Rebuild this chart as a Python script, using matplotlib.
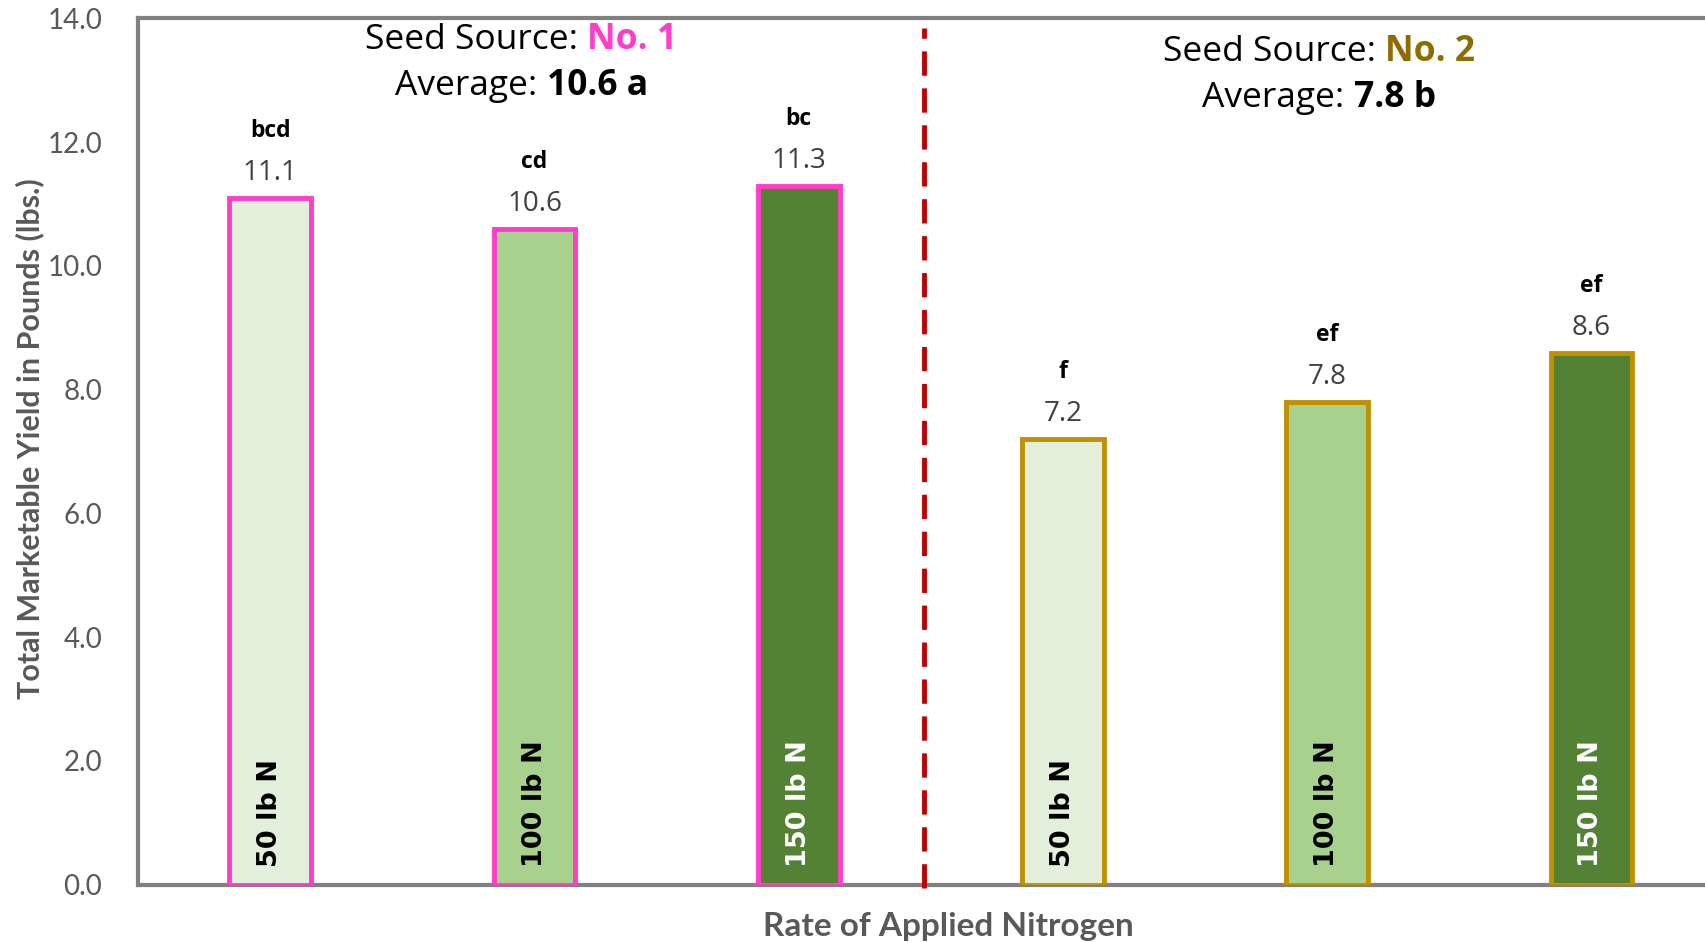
import matplotlib
matplotlib.use("Agg")
import matplotlib.pyplot as plt
from matplotlib.offsetbox import TextArea, HPacker, AnnotationBbox
from matplotlib.transforms import offset_copy

# Yield data: two seed sources x three nitrogen rates
rates = ["50 lb N", "100 lb N", "150 lb N"]
source1_yield = [11.1, 10.6, 11.3]
source2_yield = [7.2, 7.8, 8.6]
source1_letters = ["bcd", "cd", "bc"]
source2_letters = ["f", "ef", "ef"]
source_names = ["No. 1", "No. 2"]
source_averages = ["10.6 a", "7.8 b"]
y_ticks = [0.0, 2.0, 4.0, 6.0, 8.0, 10.0, 12.0, 14.0]

fill_colors = ["#E2EFDA", "#A9D18E", "#548235"]
label_colors = ["black", "black", "white"]
source_edge = ["#FF3DCB", "#BF9000"]
source_title = ["#FF3DCB", "#8F6C00"]

fig = plt.figure(figsize=(17.06, 9.42), dpi=100)
ax = fig.add_axes([0.081, 0.0609, 0.9293, 0.9195])

values = source1_yield + source2_yield
letters = source1_letters + source2_letters
positions = list(range(len(values)))
fills = fill_colors * 2
edges = [source_edge[0]] * 3 + [source_edge[1]] * 3
txtcols = label_colors * 2
names = rates * 2

bars = ax.bar(positions, values, width=0.31, color=fills, edgecolor=edges,
              linewidth=3.5, zorder=3)

for x, v, let, name, tc in zip(positions, values, letters, names, txtcols):
    t1 = offset_copy(ax.transData, fig=fig, x=0, y=25, units="dots")
    ax.text(x, v, f"{v:.1f}", transform=t1, ha="center", va="center",
            fontsize=20, color="#404040", family="Open Sans")
    t2 = offset_copy(ax.transData, fig=fig, x=0, y=67, units="dots")
    ax.text(x, v, let, transform=t2, ha="center", va="center",
            fontsize=16.5, fontweight="bold", color="black", family="Open Sans")
    t3 = offset_copy(ax.transData, fig=fig, x=0, y=18, units="dots")
    ax.text(x, 0, name, transform=t3, ha="center", va="bottom", rotation=90,
            fontsize=19.5, fontweight="bold", color=tc, family="DejaVu Sans")

# Divider between the two seed sources
ax.plot([2.475, 2.475], [-0.05, 13.85], color="#C00000", lw=3.5,
        dashes=(5, 2.6), zorder=4, clip_on=False)

# Group headers
header_pos = [(0.95, 13.65, 12.91), (3.97, 13.45, 12.72)]
for (hx, hy1, hy2), nm, avg, col in zip(header_pos, source_names,
                                         source_averages, source_title):
    line1 = HPacker(children=[
        TextArea("Seed Source: ", textprops=dict(fontsize=25.5, color="black", family="Open Sans")),
        TextArea(nm, textprops=dict(fontsize=25.5, color=col, fontweight="bold", family="Open Sans")),
    ], pad=0, sep=0, align="baseline")
    line2 = HPacker(children=[
        TextArea("Average: ", textprops=dict(fontsize=25.5, color="black", family="Open Sans")),
        TextArea(avg, textprops=dict(fontsize=25.5, color="black", fontweight="bold", family="Open Sans")),
    ], pad=0, sep=0, align="baseline")
    for box, yy in ((line1, hy1), (line2, hy2)):
        ab = AnnotationBbox(box, (hx, yy), xycoords="data", frameon=False,
                            box_alignment=(0.5, 0.5), pad=0, zorder=5)
        ax.add_artist(ab)

ax.set_xlim(-0.5, 5.5)
ax.set_ylim(0, 14)
ax.set_yticks(y_ticks)
ax.set_yticklabels([f"{t:.1f}" for t in y_ticks], fontsize=20, color="#595959",
                   family="Lato")
ax.set_xticks([])
ax.tick_params(axis="y", length=0, pad=26)

for side in ("left", "bottom", "top", "right"):
    ax.spines[side].set_color("#808080")
    ax.spines[side].set_linewidth(3)

fig.text(0.0176, 0.534, "Total Marketable Yield in Pounds (lbs.)", rotation=90,
         ha="center", va="center", fontsize=22, fontweight="bold",
         color="#595959", family="Lato")
fig.text(0.5557, 0.016, "Rate of Applied Nitrogen", ha="center", va="center",
         fontsize=24, fontweight="bold", color="#595959", family="Lato")

fig.savefig("out.png", dpi=100)
